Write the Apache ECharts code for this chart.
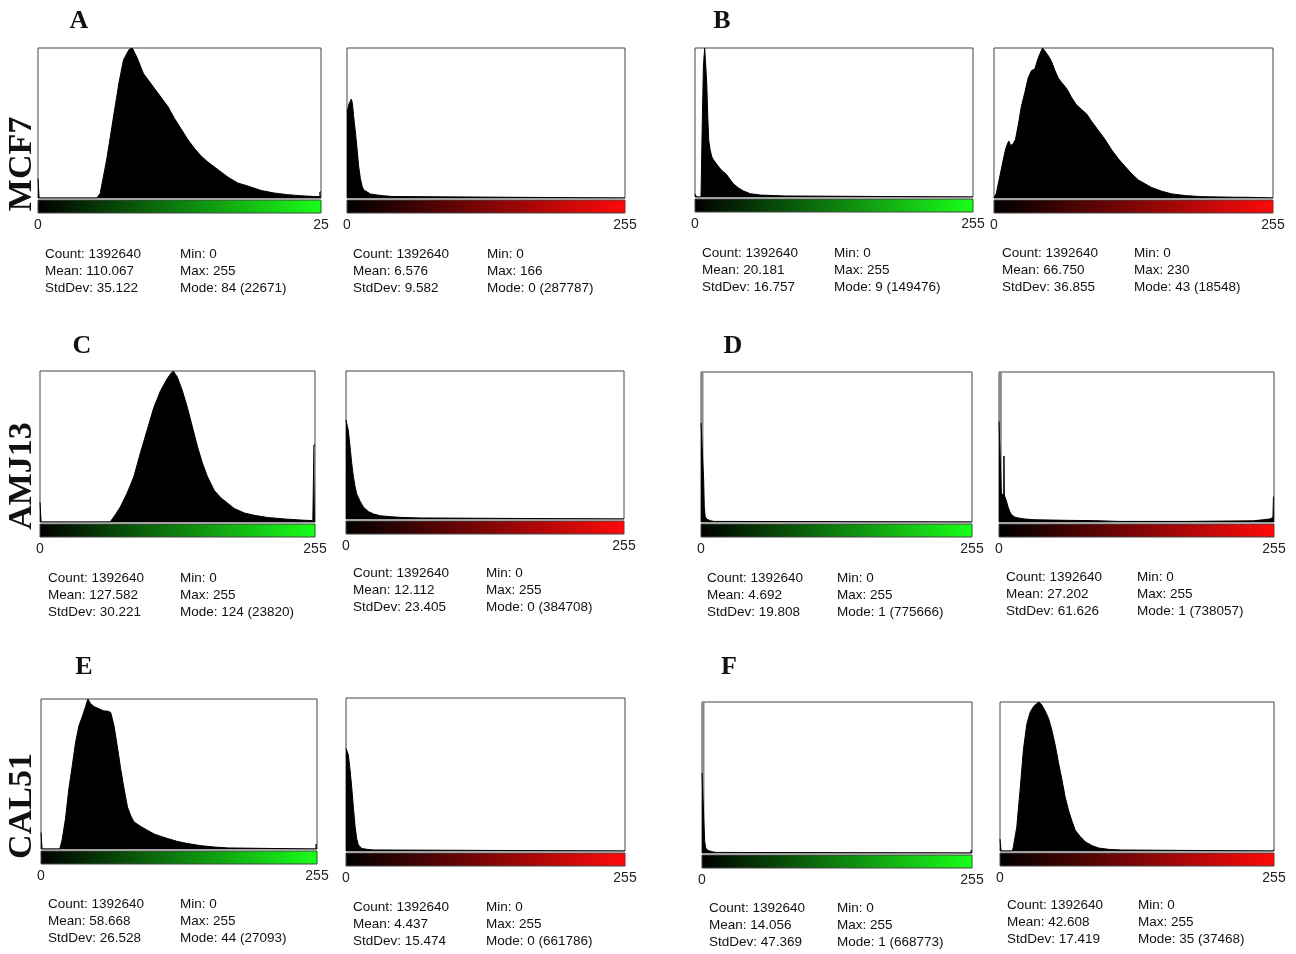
<!DOCTYPE html>
<html>
<head>
<meta charset="utf-8">
<script src="https://cdn.jsdelivr.net/npm/echarts@6/dist/echarts.min.js"></script>
<style>
  html, body { margin: 0; padding: 0; background: #fff; }
  #chart { width: 1296px; height: 954px; }
</style>
</head>
<body>
<div id="chart"></div>
<script>
// histogram outlines: [grey level, % of panel height]
const histA_green = [[0,13],[1,13],[1,0],[53,0],[56,3],[62,26],[68,54],[73,77],[77,92],[82,99],[85,100],[89,94],[95,83],[100,78],[104,74],[110,68],[117,61],[123,53],[129,46],[135,39],[141,33],[147,28],[153,24],[162,19],[171,14],[180,10],[189,8],[201,5],[213,3.3],[225,2.2],[237,1.5],[249,1],[254,1],[254,4],[255,4]]
const histA_red = [[0,57],[2,63],[4,66],[5,63],[6,55],[7.7,44],[9.2,33],[10.7,21],[12.3,13],[13.8,8],[15.3,5.5],[18.4,4],[21.5,2.7],[27.6,2],[33.7,1.5],[41.4,1],[43,1],[43,0],[255,0]]
const histB_green = [[0,2],[1.5,2],[1.5,0],[5.5,0],[6.5,43],[7.7,88],[8.9,100],[10.2,100],[10.8,76],[11.7,54],[12.6,38],[13.8,32],[15.4,27],[16.9,25],[20,22],[23,19],[26,17],[29,15],[32,12],[35,9],[40,6],[44.6,4],[50.8,2.2],[60,1.3],[72,1],[83,0.7],[84,0],[255,0]]
const histB_red = [[0,0],[0.6,0],[2.1,3],[5.2,14],[8.3,25],[10.4,32],[12.2,36],[13.5,38],[15.3,35],[17.4,36],[19.6,39],[22,48],[25,61],[28.1,70],[31.2,80],[34.3,85],[37.3,86],[39.8,92],[41.9,96],[44.3,100],[46.5,98],[49.5,95],[52.6,91],[55.7,85],[58.7,80],[61.8,77],[66.4,73],[70.9,67],[75.5,62],[80.1,59],[84.7,56],[89.3,51],[95.4,45],[101.5,39],[107.6,32],[113.8,26],[119.9,21],[126,16],[132,12],[138,9.5],[144,7],[153.5,4.5],[162.7,2.7],[175,1.6],[190,0.9],[205.5,0.7],[220.8,0.5],[231,0.5],[231,0],[255,0]]
const histC_green = [[0,13],[1,13],[1,0],[65,0],[70,5],[74.5,10],[80.7,19],[87,30],[93.2,46],[99.4,61],[105.6,76],[111.8,87],[118,95],[121,98],[123.6,100],[127.3,96],[132,87],[136.6,76],[141.3,63],[146,50],[150.6,39],[155.3,30],[161.5,21],[167.7,16],[174,12.5],[180,9],[189.4,6],[198.8,4.4],[211,3],[226.7,2],[242,1.3],[253,0.9],[254,0.9],[254,51],[255,51]]
const histC_red = [[0,67],[2.1,60],[3.7,49],[5.2,38],[6.7,29],[8.3,22],[9.8,17],[12.9,12],[16,8],[20.6,5],[25.2,3.4],[31.3,2.2],[40.5,1.6],[49.7,1.1],[58.9,0.9],[68,0.7],[70,0.7],[70,0],[255,0]]
const histD_green = [[0,66],[1.5,66],[2.5,28],[3.1,10],[4,3.5],[5.7,1.8],[8.8,0.9],[12,0.4],[13.5,0],[255,0]]
const histD_red = [[0,67],[1.5,67],[2.2,19],[3.7,18],[4.4,18],[4.6,44],[4.9,18],[5.9,17],[6.9,14],[8.4,10],[10,7],[11.5,5],[14.6,3.3],[17.8,2.7],[24,2],[33.3,1.5],[48.9,1.3],[64.5,1.1],[89.4,0.9],[111,0.4],[173.5,0.4],[236,0.8],[245,1.5],[251,2],[254,3],[254.5,17],[255,17]]
const histE_green = [[0,11],[1,11],[1,0],[17.3,0],[19.5,6],[22.6,20],[25.7,40],[28.8,55],[31.9,71],[35,82],[38,88],[41.2,95],[43.3,100],[45.8,97],[48.9,95],[52,94],[55.1,93],[58.2,92],[61.3,92],[64.4,91],[67.5,82],[70.6,68],[73.7,53],[76.8,40],[79.9,28],[83,22],[86,18],[92.3,15],[98.5,12.4],[104.6,10],[110.8,8.4],[117,7],[126.3,5],[135.6,3.6],[148,2.2],[160.4,1.3],[172.8,0.7],[174.5,0],[254,0],[254,3],[255,3]]
const histE_red = [[0,67],[2.1,63],[3.7,53],[5.2,42],[6.7,29],[8.3,16],[9.8,8],[11.3,4],[14.4,1.7],[19,1.1],[25,0.7],[26,0],[255,0]]
const histF_green = [[0,53],[1.6,53],[2.5,8],[3.5,3.3],[5.7,1.6],[10.4,0.7],[13.6,0.4],[14,0],[254,0],[254,1.5],[255,1.5]]
const histF_red = [[0,8],[1,8],[1,0],[11.5,0],[12.5,3],[15.6,16],[18.7,41],[21.8,68],[24.9,85],[28,93],[31.2,97],[34.3,99],[36.4,100],[38.9,98],[42,94],[45.2,89],[48.3,81],[51.4,71],[54.5,59],[57.6,48],[60.7,36],[63.9,27],[67,20],[70,14],[74.8,9.6],[79.4,6.2],[85.7,3.6],[91.9,2],[101.2,1.1],[112,0.7],[113,0],[254,0],[254,1],[255,1]]

// clipped mode bins (drawn grey up to the top of the panel)
const clipD_green = [[0,100],[1.9,100],[1.9,0]]
const clipD_red = [[0,100],[2.1,100],[2.1,0]]
const clipF_green = [[0,100],[1.9,100],[1.9,0]]

const hists = [histA_green, histA_red, histB_green, histB_red, histC_green, histC_red,
  histD_green, histD_red, histE_green, histE_red, histF_green, histF_red]
const clips = [null, null, null, null, null, null, clipD_green, clipD_red, null, null, clipF_green, null]
const channels = ['green', 'red', 'green', 'red', 'green', 'red', 'green', 'red', 'green', 'red', 'green', 'red']

// axis end labels
const startLabels = ['0', '0', '0', '0', '0', '0', '0', '0', '0', '0', '0', '0']
const endLabels = ['25', '255', '255', '255', '255', '255', '255', '255', '255', '255', '255', '255']

// statistics under each histogram
const counts = [1392640, 1392640, 1392640, 1392640, 1392640, 1392640, 1392640, 1392640, 1392640, 1392640, 1392640, 1392640]
const means = ['110.067', '6.576', '20.181', '66.750', '127.582', '12.112', '4.692', '27.202', '58.668', '4.437', '14.056', '42.608']
const stdDevs = ['35.122', '9.582', '16.757', '36.855', '30.221', '23.405', '19.808', '61.626', '26.528', '15.474', '47.369', '17.419']
const mins = [0, 0, 0, 0, 0, 0, 0, 0, 0, 0, 0, 0]
const maxs = [255, 166, 255, 230, 255, 255, 255, 255, 255, 255, 255, 255]
const modes = ['84 (22671)', '0 (287787)', '9 (149476)', '43 (18548)', '124 (23820)', '0 (384708)',
  '1 (775666)', '1 (738057)', '44 (27093)', '0 (661786)', '1 (668773)', '35 (37468)']

const panelLetters = ['A', 'B', 'C', 'D', 'E', 'F']
const cellLines = ['MCF7', 'AMJ13', 'CAL51']

// layout (pixels)
const boxes = [
  [38, 48, 321, 198], [347, 48, 625, 198], [695, 48, 973, 197], [994, 48, 1273, 198],
  [40, 371, 315, 522], [346, 371, 624, 519], [701, 372, 972, 522], [999, 372, 1274, 522],
  [41, 699, 317, 849], [346, 698, 625, 851], [702, 702, 972, 853], [1000, 702, 1274, 851]
]
const statPos = [
  [45, 180, 254], [353, 487, 254], [702, 834, 253], [1002, 1134, 253],
  [48, 180, 578], [353, 486, 573], [707, 837, 578], [1006, 1137, 577],
  [48, 180, 904], [353, 486, 907], [709, 837, 908], [1007, 1138, 905]
]
const letterPos = [[79, 21], [722, 21], [82, 346], [733, 346], [84, 667], [729, 667]]
const rowLabelPos = [[22, 164], [22, 476], [22, 806]]

const gradEnd = { green: '#1aff1a', red: '#ff0a0a' }
const sansFont = '"Liberation Sans", Arial, sans-serif'
const serifFont = '"Liberation Serif", "Times New Roman", serif'

function txt (x, y, text, font, align, rotation) {
  return {
    type: 'text',
    x: x,
    y: y,
    rotation: rotation || 0,
    silent: true,
    style: {
      text: text,
      font: font,
      fill: '#111',
      align: align,
      textAlign: align,
      verticalAlign: 'middle',
      textVerticalAlign: 'middle'
    }
  }
}

const grids = []
const xAxes = []
const yAxes = []
const series = []
const graphics = []

boxes.forEach((b, i) => {
  grids.push({
    left: b[0],
    top: b[1],
    width: b[2] - b[0],
    height: b[3] - b[1],
    show: true,
    borderColor: '#444',
    borderWidth: 1,
    backgroundColor: '#fff'
  })
  xAxes.push({
    gridIndex: i,
    type: 'value',
    min: 0,
    max: 255,
    interval: 255,
    axisLine: { show: false },
    axisTick: { show: false },
    splitLine: { show: false },
    axisLabel: {
      show: true,
      showMinLabel: true,
      showMaxLabel: true,
      margin: 20,
      fontSize: 14,
      fontFamily: sansFont,
      color: '#222',
      formatter: (v) => (v === 0 ? startLabels[i] : endLabels[i])
    }
  })
  yAxes.push({ gridIndex: i, type: 'value', min: 0, max: 100, show: false })

  if (clips[i]) {
    series.push({
      type: 'line',
      xAxisIndex: i,
      yAxisIndex: i,
      data: clips[i],
      symbol: 'none',
      silent: true,
      lineStyle: { color: '#8a8a8a', width: 1 },
      areaStyle: { color: '#8a8a8a', opacity: 1 },
      z: 2
    })
  }
  series.push({
    type: 'line',
    xAxisIndex: i,
    yAxisIndex: i,
    data: hists[i],
    symbol: 'none',
    silent: true,
    lineStyle: { color: '#000', width: 1 },
    areaStyle: { color: '#000', opacity: 1 },
    z: 3
  })

  // intensity scale bar under the panel
  graphics.push({
    type: 'rect',
    silent: true,
    shape: { x: b[0], y: b[3] + 2, width: b[2] - b[0], height: 13 },
    style: {
      fill: new echarts.graphic.LinearGradient(0, 0, 1, 0, [
        { offset: 0, color: '#000' },
        { offset: 1, color: gradEnd[channels[i]] }
      ]),
      stroke: '#444',
      lineWidth: 1
    }
  })

  const s = statPos[i]
  const f = '13.5px ' + sansFont
  graphics.push(txt(s[0], s[2], 'Count: ' + counts[i], f, 'left'))
  graphics.push(txt(s[0], s[2] + 17, 'Mean: ' + means[i], f, 'left'))
  graphics.push(txt(s[0], s[2] + 34, 'StdDev: ' + stdDevs[i], f, 'left'))
  graphics.push(txt(s[1], s[2], 'Min: ' + mins[i], f, 'left'))
  graphics.push(txt(s[1], s[2] + 17, 'Max: ' + maxs[i], f, 'left'))
  graphics.push(txt(s[1], s[2] + 34, 'Mode: ' + modes[i], f, 'left'))
})

panelLetters.forEach((l, i) => {
  graphics.push(txt(letterPos[i][0], letterPos[i][1], l, 'bold 26px ' + serifFont, 'center'))
})
cellLines.forEach((c, i) => {
  graphics.push(txt(rowLabelPos[i][0], rowLabelPos[i][1], c, 'bold 34px ' + serifFont, 'center', Math.PI / 2))
})

const option = {
  backgroundColor: '#fff',
  animation: false,
  grid: grids,
  xAxis: xAxes,
  yAxis: yAxes,
  series: series,
  graphic: { elements: graphics }
}

const chart = echarts.init(document.getElementById('chart'))
chart.setOption(option)
</script>
</body>
</html>
